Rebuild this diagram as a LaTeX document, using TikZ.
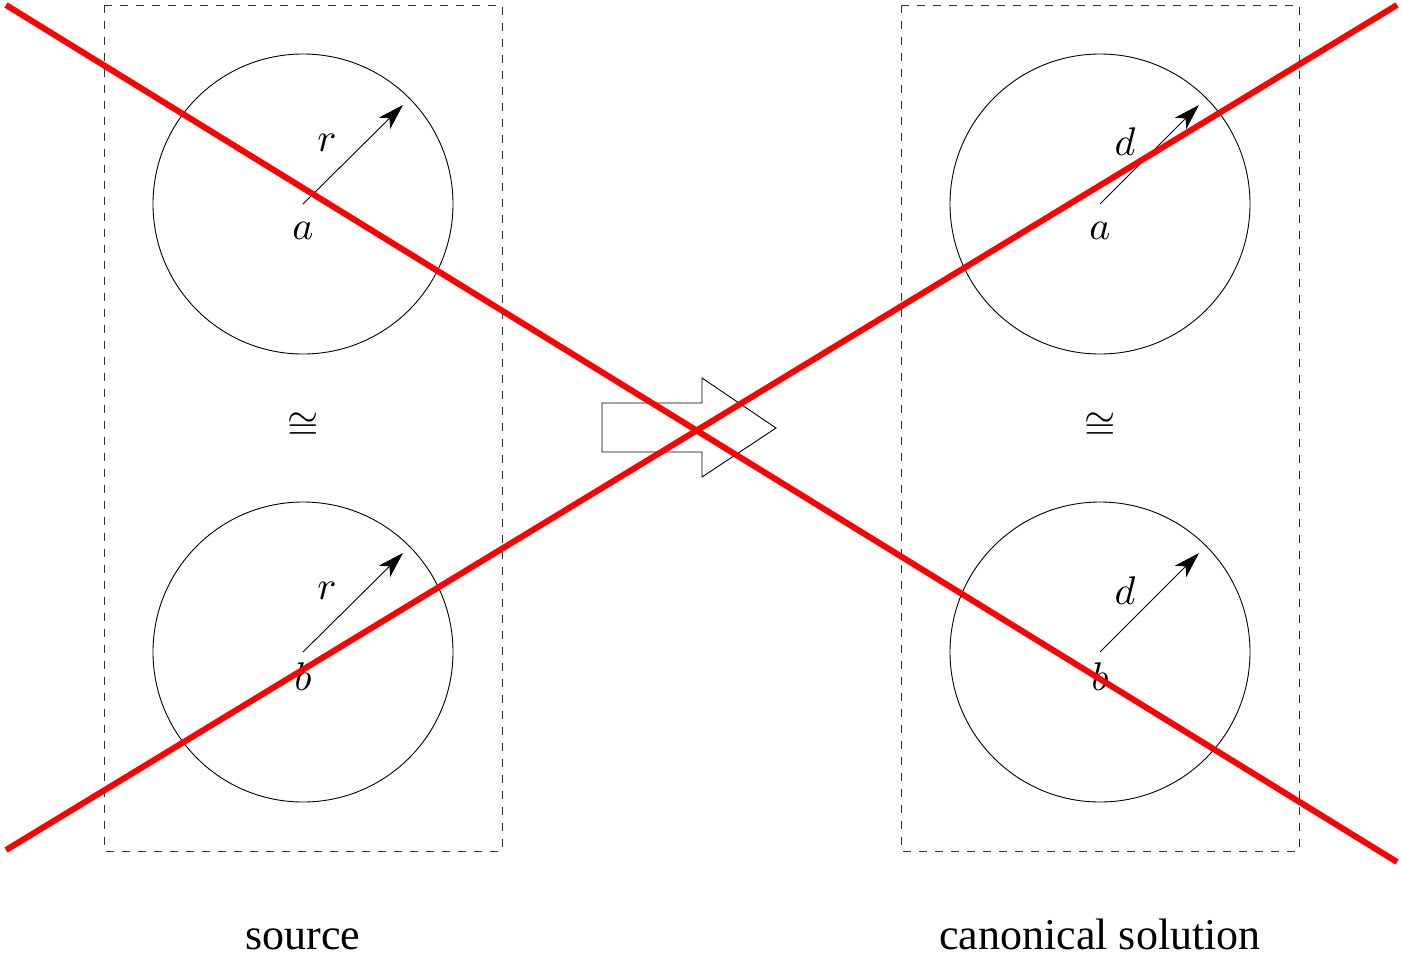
\documentclass[tikz,border=0pt]{standalone}
\usepackage{graphicx}
\usepackage{fontspec}
\setmainfont{Liberation Serif}
\usetikzlibrary{arrows.meta}
\newcommand{\mylab}[1]{\scalebox{4}{$#1$}}
\begin{document}
\begin{tikzpicture}[x=1pt,y=-1pt,
  ring/.style={draw,circle,line width=0.9pt,minimum size=300pt,inner sep=0pt},
  box/.style={draw=black!80,dashed,dash pattern=on 8pt off 8pt,line width=0.9pt},
  rad/.style={line width=0.9pt,-{Stealth[length=26pt,width=16pt,inset=7pt]}},
  mlab/.style={inner sep=0pt},
  captext/.style={font=\fontsize{44}{52}\selectfont,inner sep=0pt,anchor=base},
  cross/.style={red,line width=6pt}]
\useasboundingbox (0,0) rectangle (1401,959);
% dashed boxes
\draw[box] (104,5) rectangle (502,851);
\draw[box] (901,5) rectangle (1299,851);
% circles
\node[ring] (la) at (303,204) {};
\node[ring] (lbb) at (303,652) {};
\node[ring] (ra) at (1100,204) {};
\node[ring] (rbb) at (1100,652) {};
% radius arrows
\coordinate (tla) at (403,105);
\coordinate (tlb) at (403,553);
\coordinate (tra) at (1199,105);
\coordinate (trb) at (1199,553);
\draw[rad] (la.center) -- (tla);
\draw[rad] (lbb.center) -- (tlb);
\draw[rad] (ra.center) -- (tra);
\draw[rad] (rbb.center) -- (trb);
% labels
\node[mlab] (r1) at (327,143) {\mylab{r}};
\node[mlab] (a1) at (303,231) {\mylab{a}};
\node[mlab] (r2) at (327,591) {\mylab{r}};
\node[mlab] (b1) at (303,677) {\mylab{b}};
\node[mlab] (d1) at (1125,142) {\mylab{d}};
\node[mlab] (a2) at (1100,231) {\mylab{a}};
\node[mlab] (d2) at (1125,591) {\mylab{d}};
\node[mlab] (b2) at (1100,677) {\mylab{b}};
\node[mlab] (c1) at (303,426) {\mylab{\cong}};
\node[mlab] (c2) at (1100,426) {\mylab{\cong}};
% block arrow
\draw[line width=0.9pt,line join=miter] (602,403) -- (702,403) -- (702,378) -- (776,428) -- (702,477) -- (702,452) -- (602,452) -- cycle;
% captions
\node[captext] (s) at (303,949) {source};
\node[captext] (cs) at (1100,949) {canonical solution};
% red cross
\coordinate (p1) at (6,5);
\coordinate (p2) at (1397,862);
\coordinate (p3) at (6,850);
\coordinate (p4) at (1397,5);
\draw[cross] (p1) -- (p2);
\draw[cross] (p3) -- (p4);
\end{tikzpicture}
\end{document}
